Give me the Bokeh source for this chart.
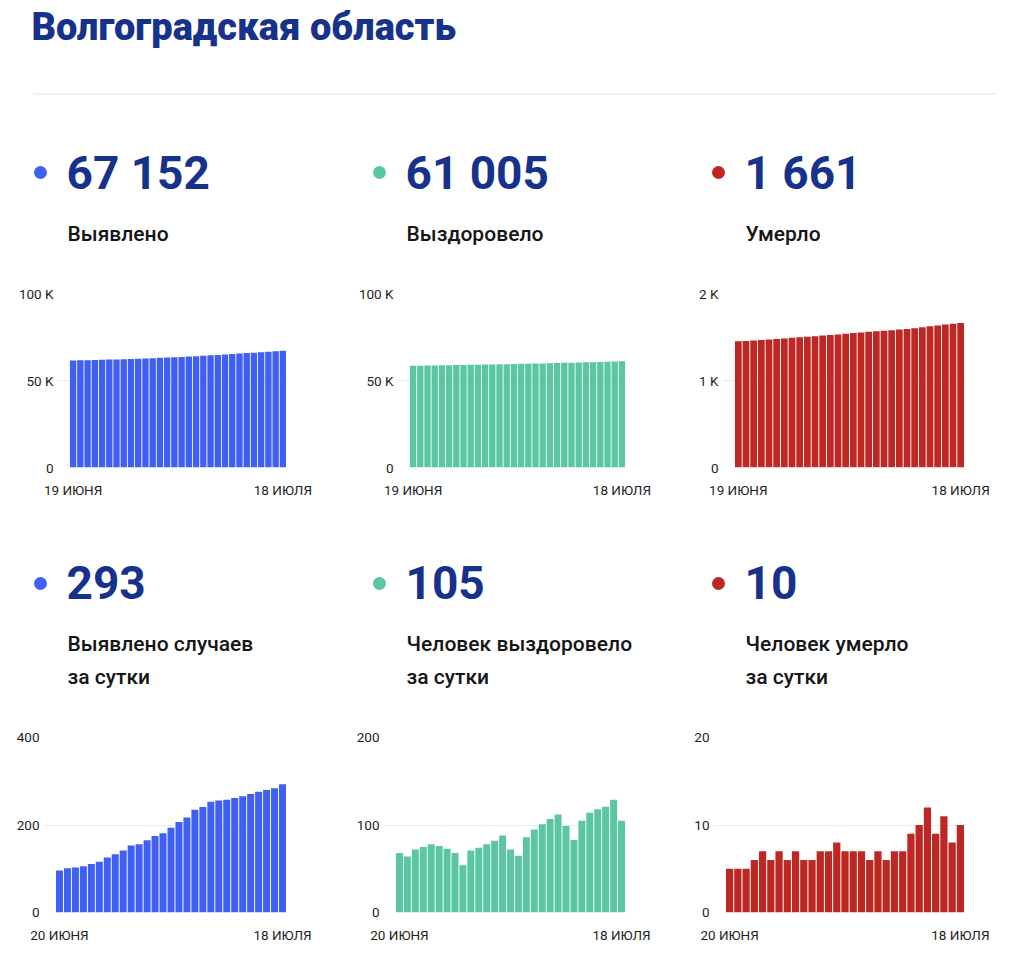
from bokeh.plotting import figure
from bokeh.layouts import column, row
from bokeh.models import Range1d, FixedTicker, ColumnDataSource
from bokeh.core.properties import value
from bokeh.embed import file_html
from bokeh.resources import INLINE

# ---------------- data ----------------
TITLE = "Волгоградская область"
top_dates = ["19 ИЮНЯ", "18 ИЮЛЯ"]
bottom_dates = ["20 ИЮНЯ", "18 ИЮЛЯ"]

headline_top = ["67 152", "61 005", "1 661"]
labels_top = ["Выявлено", "Выздоровело", "Умерло"]
headline_bottom = ["293", "105", "10"]
labels_bottom_1 = ["Выявлено случаев", "Человек выздоровело", "Человек умерло"]
labels_bottom_2 = ["за сутки", "за сутки", "за сутки"]

cases_total = [61495, 61591, 61692, 61795, 61901, 62012, 62128, 62254, 62387, 62529,
               62682, 62838, 63003, 63178, 63359, 63553, 63760, 63977, 64212, 64453,
               64706, 64962, 65220, 65482, 65748, 66019, 66295, 66575, 66859, 67152]
recovered_total = [58472, 58540, 58604, 58676, 58751, 58829, 58905, 58978, 59046, 59100,
                   59171, 59245, 59323, 59405, 59493, 59565, 59630, 59716, 59811, 59912,
                   60019, 60131, 60230, 60313, 60418, 60532, 60650, 60771, 60900, 61005]
deaths_total = [1450, 1455, 1460, 1465, 1471, 1478, 1484, 1491, 1497, 1504,
                1510, 1516, 1523, 1530, 1538, 1545, 1552, 1559, 1565, 1572,
                1578, 1585, 1592, 1601, 1611, 1623, 1632, 1643, 1651, 1661]

cases_daily = [96, 101, 103, 106, 111, 116, 126, 133, 142, 153, 156, 165, 175, 181, 194,
               207, 217, 235, 241, 253, 256, 258, 262, 266, 271, 276, 280, 284, 293]
recovered_daily = [68, 64, 72, 75, 78, 76, 73, 68, 54, 71, 74, 78, 82, 88, 72,
                   65, 86, 95, 101, 107, 112, 99, 83, 105, 114, 118, 121, 129, 105]
deaths_daily = [5, 5, 5, 6, 7, 6, 7, 6, 7, 6, 6, 7, 7, 8, 7,
                7, 7, 6, 7, 6, 7, 7, 9, 10, 12, 9, 11, 8, 10]

top_ticks = [[0, 50000, 100000], [0, 50000, 100000], [0, 1000, 2000]]
top_tick_labels = [["0", "50 K", "100 K"], ["0", "50 K", "100 K"], ["0", "1 K", "2 K"]]
bottom_ticks = [[0, 200, 400], [0, 100, 200], [0, 10, 20]]
bottom_tick_labels = [["0", "200", "400"], ["0", "100", "200"], ["0", "10", "20"]]

# ---------------- style ----------------
FONT = "Roboto"
NAVY = "#17328b"
COLORS = ["#4060f4", "#5ac6a4", "#be2824"]
TXT = "#161616"
AX = "#1e1e1e"
GRID = "#ececec"
W_TOTAL = 1016
COL_W = [347, 339, 330]
PITCH = 339


def text_fig(width, height):
    p = figure(width=width, height=height, x_range=Range1d(0, width), y_range=Range1d(height, 0),
               x_axis_type=None, y_axis_type=None, output_backend="svg", toolbar_location=None,
               min_border=0)
    p.grid.visible = False
    p.outline_line_color = None
    p.background_fill_color = "white"
    p.border_fill_color = "white"
    return p


def bar_chart(vals, color, ticks, tick_labels, dates, width, height, bl, br, bt, bb):
    n = len(vals)
    frame_w = width - bl - br
    pad_px = 12
    pitch = (frame_w - pad_px) / n
    p = figure(width=width, height=height, output_backend="svg", toolbar_location=None,
               x_range=Range1d(-0.5 - pad_px / pitch, n - 0.5),
               y_range=Range1d(0, ticks[-1]),
               min_border_left=bl, min_border_right=br, min_border_top=bt, min_border_bottom=bb)
    src = ColumnDataSource(dict(x=list(range(n)), y=vals))
    p.vbar(x="x", top="y", width=0.88, source=src, fill_color=color, line_color=None)
    p.outline_line_color = None
    p.background_fill_color = "white"
    p.border_fill_color = "white"
    p.xgrid.visible = False
    p.ygrid.ticker = FixedTicker(ticks=ticks)
    p.ygrid.grid_line_color = GRID
    p.ygrid.grid_line_width = 1

    p.yaxis.ticker = FixedTicker(ticks=ticks)
    p.yaxis.major_label_overrides = {t: l for t, l in zip(ticks, tick_labels)}
    p.xaxis.ticker = FixedTicker(ticks=[0, n - 1])
    p.xaxis.major_label_overrides = {0: dates[0], n - 1: dates[1]}
    for ax in (p.xaxis, p.yaxis):
        ax.axis_line_color = None
        ax.major_tick_line_color = None
        ax.minor_tick_line_color = None
        ax.major_tick_out = 0
        ax.major_tick_in = 0
        ax.major_label_text_font = FONT
        ax.major_label_text_font_size = "13.5px"
        ax.major_label_text_color = AX
    p.yaxis.major_label_standoff = 4
    p.xaxis.major_label_standoff = 14
    return p


# header (y values are vertical text centres)
header = text_fig(W_TOTAL, 118)
header.text(x=[31], y=[26], text=[TITLE], text_font=value("Roboto Black"), text_font_size="38px",
            text_font_style="bold", text_color=NAVY, text_baseline="alphabetic")
header.segment(x0=[33], y0=[93.5], x1=[995], y1=[93.5], line_color="#e3e3e3", line_width=1)

# top stats
stats1 = text_fig(W_TOTAL, 152)
stats1.scatter(x=[40 + i * PITCH for i in range(3)], y=[54] * 3, size=13, color=COLORS, line_color=None)
stats1.text(x=[66 + i * PITCH for i in range(3)], y=[54] * 3, text=headline_top, text_font=value(FONT),
            text_font_size="46px", text_font_style="bold", text_color=NAVY, text_baseline="alphabetic")
stats1.text(x=[67 + i * PITCH for i in range(3)], y=[115] * 3, text=labels_top, text_font=value("Roboto Medium"),
            text_font_size="21px", text_color=TXT, text_baseline="alphabetic")

# top charts
tops = [cases_total, recovered_total, deaths_total]
top_bl = [57, 50, 36]
top_br = [61, 61, 52]
charts1 = []
for i in range(3):
    charts1.append(bar_chart(tops[i], COLORS[i], top_ticks[i], top_tick_labels[i], top_dates,
                             COL_W[i], 235, top_bl[i], top_br[i], 23, 38))

# bottom stats
stats2 = text_fig(W_TOTAL, 215)
stats2.scatter(x=[40 + i * PITCH for i in range(3)], y=[78] * 3, size=13, color=COLORS, line_color=None)
stats2.text(x=[66 + i * PITCH for i in range(3)], y=[77] * 3, text=headline_bottom, text_font=value(FONT),
            text_font_size="46px", text_font_style="bold", text_color=NAVY, text_baseline="alphabetic")
stats2.text(x=[67 + i * PITCH for i in range(3)], y=[138.5] * 3, text=labels_bottom_1, text_font=value("Roboto Medium"),
            text_font_size="21px", text_color=TXT, text_baseline="alphabetic")
stats2.text(x=[67 + i * PITCH for i in range(3)], y=[171.5] * 3, text=labels_bottom_2, text_font=value("Roboto Medium"),
            text_font_size="21px", text_color=TXT, text_baseline="alphabetic")

# bottom charts
bots = [cases_daily, recovered_daily, deaths_daily]
bot_bl = [43, 36, 27]
bot_br = [61, 61, 52]
charts2 = []
for i in range(3):
    charts2.append(bar_chart(bots[i], COLORS[i], bottom_ticks[i], bottom_tick_labels[i], bottom_dates,
                             COL_W[i], 242, bot_bl[i], bot_br[i], 17, 50))

layout = column(header, stats1, row(*charts1), stats2, row(*charts2))
open("out.html", "w").write(file_html(layout, INLINE, title=TITLE))
